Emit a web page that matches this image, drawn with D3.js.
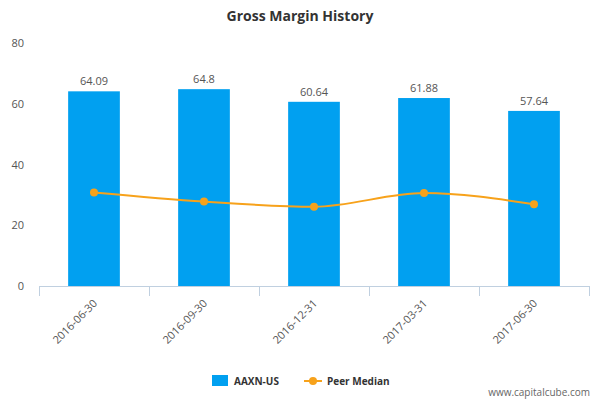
<!DOCTYPE html>
<html><head><meta charset="utf-8">
<script src="https://cdn.jsdelivr.net/npm/d3@7"></script>
<style>body{margin:0;background:#fff}text{font-family:"Open Sans",Arial,sans-serif}</style>
</head><body><div id="chart"></div>
<script>
var dates = ["2016-06-30","2016-09-30","2016-12-31","2017-03-31","2017-06-30"];
var grossMargin = [64.09, 64.8, 60.64, 61.88, 57.64];
var peerMedian = [30.8, 27.8, 26.1, 30.6, 26.9];
var yTicks = [0, 20, 40, 60, 80];

var svg = d3.select("#chart").append("svg").attr("width", 600).attr("height", 400);

svg.append("text").attr("x", 300).attr("y", 21).attr("text-anchor", "middle")
  .attr("font-size", 14).attr("font-weight", "bold").attr("fill", "#333").text("Gross Margin History");

var x = d3.scaleBand().domain(dates).range([39, 589]).paddingInner(0.53).paddingOuter(0.265);
var y = d3.scaleLinear().domain([0, 80]).range([286, 43]);

svg.selectAll(".ytick").data(yTicks).enter().append("text")
  .attr("x", 24).attr("y", d => y(d) + 4).attr("text-anchor", "end")
  .attr("font-size", 11).attr("fill", "#555").text(d => d);

svg.selectAll(".bar").data(dates).enter().append("rect")
  .attr("x", d => x(d)).attr("width", x.bandwidth())
  .attr("y", (d, i) => y(grossMargin[i])).attr("height", (d, i) => y(0) - y(grossMargin[i]))
  .attr("fill", "#01a0f0");

svg.selectAll(".lbl").data(dates).enter().append("text")
  .attr("x", d => x(d) + x.bandwidth() / 2).attr("y", (d, i) => y(grossMargin[i]) - 6)
  .attr("text-anchor", "middle").attr("font-size", 11).attr("fill", "#555")
  .text((d, i) => grossMargin[i]);

// axis
svg.append("line").attr("x1", 39).attr("x2", 590).attr("y1", 286.5).attr("y2", 286.5)
  .attr("stroke", "#c0d0e0");
var step = x.step();
d3.range(0, 6).forEach(function(k) {
  var tx = Math.round(39 + k * step) + 0.5;
  svg.append("line").attr("x1", tx).attr("x2", tx).attr("y1", 286).attr("y2", 296).attr("stroke", "#c0d0e0");
});
svg.selectAll(".xl").data(dates).enter().append("text")
  .attr("transform", d => "translate(" + (x(d) + x.bandwidth() / 2 + 4) + ",304) rotate(-45)")
  .attr("text-anchor", "end").attr("font-size", 11).attr("fill", "#555").text(d => d);

var line = d3.line().x((d, i) => x(dates[i]) + x.bandwidth() / 2).y(d => y(d)).curve(d3.curveMonotoneX);
svg.append("path").datum(peerMedian).attr("d", line).attr("fill", "none")
  .attr("stroke", "#f7a21b").attr("stroke-width", 2);
svg.selectAll(".pt").data(peerMedian).enter().append("circle")
  .attr("cx", (d, i) => x(dates[i]) + x.bandwidth() / 2).attr("cy", d => y(d)).attr("r", 4)
  .attr("fill", "#f7a21b");

// legend
svg.append("rect").attr("x", 212).attr("y", 375).attr("width", 16).attr("height", 11).attr("fill", "#01a0f0");
svg.append("text").attr("x", 234).attr("y", 385).attr("font-size", 10).attr("font-weight", "bold").attr("fill", "#333").text("AAXN-US");
svg.append("line").attr("x1", 304).attr("x2", 322).attr("y1", 381).attr("y2", 381).attr("stroke", "#f7a21b").attr("stroke-width", 2);
svg.append("circle").attr("cx", 313).attr("cy", 381).attr("r", 4).attr("fill", "#f7a21b");
svg.append("text").attr("x", 327).attr("y", 385).attr("font-size", 10).attr("font-weight", "bold").attr("fill", "#333").text("Peer Median");
svg.append("text").attr("x", 590).attr("y", 396).attr("text-anchor", "end").attr("font-size", 10).attr("fill", "#666").text("www.capitalcube.com");
</script></body></html>
